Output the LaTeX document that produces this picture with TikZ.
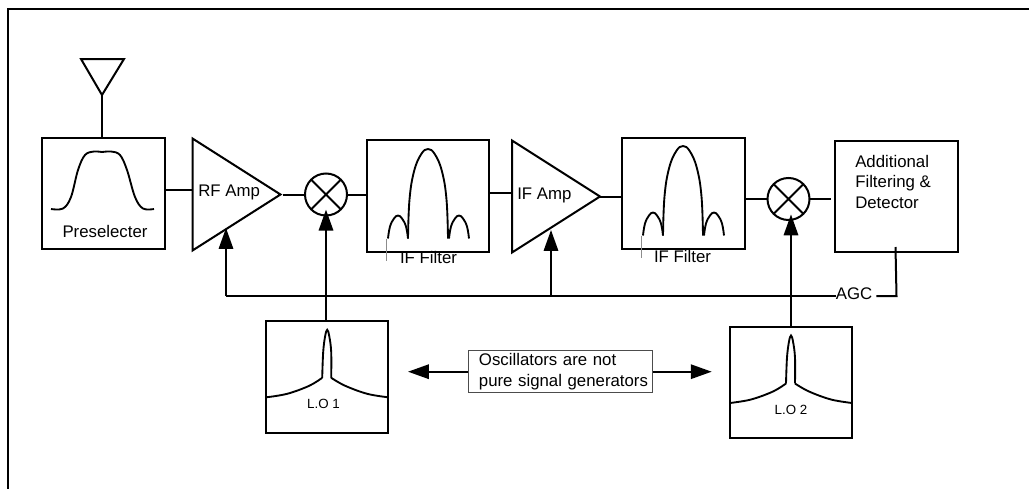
\documentclass[tikz,border=0pt]{standalone}
\usepackage{fontspec}
\setmainfont{Liberation Sans}
\usetikzlibrary{arrows.meta,shapes.geometric}
\tikzset{
	blockbox/.style={draw, line width=1.5pt, minimum width=91.9pt, minimum height=83.6pt, inner sep=0pt, outer sep=0pt},
	ampbox/.style={draw, line width=1.5pt, isosceles triangle, isosceles triangle stretches, anchor=west, minimum width=84pt, minimum height=66pt, inner sep=0pt, outer sep=0pt},
	mixer/.style={draw, circle, line width=1.5pt, minimum size=31.5pt, inner sep=0pt, outer sep=0pt,
		path picture={\draw[line width=1.5pt] (path picture bounding box.north west) -- (path picture bounding box.south east)
			(path picture bounding box.north east) -- (path picture bounding box.south west);}},
	wire/.style={line width=1.5pt},
	feed/.style={line width=1.5pt, -{Triangle[length=15.7pt,width=10.8pt]}},
	lbl/.style={inner sep=0pt, font=\fontsize{12.6}{15.4}\selectfont},
	smalllbl/.style={inner sep=0pt, font=\fontsize{10}{12}\selectfont},
	resp/.style={line width=1.4pt}
}
\begin{document}
\begin{tikzpicture}[x=.75pt, y=-.75pt]
		\useasboundingbox (0, 0) rectangle (1029, 489);
		\draw[line width=2pt] (1029, 9) -- (8, 9) -- (8, 489);
		% antenna and blocks
		\draw[wire, line join=miter] (81, 59) -- (124, 59) -- (102, 95) -- cycle;
		\coordinate (antenna) at (102, 95);
		\node[blockbox] (presel) at (103.7, 193.3) {};
		\node[ampbox] (rfamp) at (192.5, 194.5) {};
		\node[mixer] (mix1) at (326, 194.5) {};
		\node[blockbox] (filter1) at (428.2, 196) {};
		\node[ampbox] (ifamp) at (512, 196.5) {};
		\node[blockbox] (filter2) at (683.7, 193.6) {};
		\node[mixer] (mix2) at (788.5, 199) {};
		\node[blockbox] (detect) at (896.3, 196.5) {};
		\node[blockbox] (lo1) at (327.2, 376.8) {};
		\node[blockbox] (lo2) at (791, 382.5) {};
		\node[draw=black!70, line width=.7pt, minimum width=138pt, minimum height=31.5pt, inner sep=0pt, text width=138pt, align=left, lbl] (note) at (560.3, 371.7)
			{\hspace*{8pt}Oscillators are not\\\hspace*{8pt}pure signal generators};
		% labels
		\node[lbl] (preselname) at (105, 231) {Preselecter};
		\node[lbl, anchor=west] (rfname) at (198, 192) {RF Amp};
		\node[lbl] (filter1name) at (428.5, 257) {IF Filter};
		\node[lbl, anchor=west] (ifname) at (517, 195) {IF Amp};
		\node[lbl] (filter2name) at (682.5, 256) {IF Filter};
		\node[lbl, anchor=north west, align=left] (detectname) at (855, 155) {Additional\\Filtering \&\\Detector};
		\node[lbl] (agc) at (854, 294) {AGC};
		\node[smalllbl] (lo1name) at (323.5, 404) {L.O 1};
		\node[smalllbl] (lo2name) at (791, 410) {L.O 2};
		% signal path
		\draw[wire] (antenna) -- (presel.north -| antenna);
		\draw[wire] (presel.east |- 0, 190) -- (rfamp.west |- 0, 190);
		\draw[wire] (rfamp.apex |- mix1.west) ++(2, 0) -- (mix1.west);
		\draw[wire] (mix1.east) -- (filter1.west |- mix1.east);
		\draw[wire] (filter1.east |- 0, 193) -- (ifamp.west |- 0, 193);
		\draw[wire] (ifamp.apex) -- (filter2.west |- ifamp.apex);
		\draw[wire] (filter2.east |- mix2.west) -- (mix2.west);
		\draw[wire] (mix2.east) -- (831, 199);
		% AGC loop
		\coordinate (buscorner) at (226, 296);
		\coordinate (rfgain) at (226, 228);
		\coordinate (iftee) at (551, 296);
		\coordinate (ifgain) at (551, 230);
		\coordinate (agcturn) at (896.5, 296);
		\coordinate (detecttap) at (895.5, 247);
		\draw[wire] (agc.west |- buscorner) -- (buscorner);
		\draw[feed] (buscorner) -- (rfgain);
		\draw[feed] (iftee) -- (ifgain);
		\draw[wire, line join=miter] (agc.east |- agcturn) ++(4, 0) -- (agcturn) -- (detecttap);
		% local oscillators
		\draw[feed, shorten >=-4.4pt] (lo1.north -| mix1.south) -- (mix1.south);
		\draw[feed, shorten >=-4.2pt] (lo2.north) -- (lo2.north |- mix2.south);
		\draw[feed] (note.west) -- (408, 371.7);
		\draw[feed] (note.east) -- (711.7, 371.7);
		% responses
		\draw[resp] plot [smooth, tension=.6] coordinates {(51, 209)(63, 208.5)(71, 197)(78, 170)(85, 155)(94, 151.5)(102, 152)(111, 151.5)(120, 155)(127, 170)(135, 197)(143, 208.5)(154, 209)};
		\foreach \fx/\fy in {408/238.5, 663/235.5} {
			\begin{scope}[shift={(\fx, \fy)}]
				\draw[resp] plot [smooth, tension=.7] coordinates {(0, 0)(1.5, -39)(6, -67)(13, -84)(20, -89.5)(27, -84)(34, -67)(38.5, -39)(40, 0)};
				\draw[resp] plot [smooth, tension=.7] coordinates {(-20, 0)(-18, -12)(-14, -20)(-10, -23)(-6, -20)(-2, -12)(0, 0)};
				\draw[resp] plot [smooth, tension=.7] coordinates {(41, 0)(43, -12)(47, -20)(51, -23)(55, -20)(59, -12)(61, 0)};
				\draw[black!45, line width=.4pt] (-21.5, 0) -- (-21.5, 22);
			\end{scope}
		}
		\foreach \lx/\ly in {327.2/376.8, 791/382.5} {
			\begin{scope}[shift={(\lx, \ly)}]
				\draw[resp] plot [smooth, tension=.6] coordinates {(-61, 20.5)(-40, 17)(-18, 9)(-5, 1)};
				\draw[resp] plot [smooth, tension=.6] coordinates {(4, 1)(18, 9)(40, 17)(61, 20.5)};
				\draw[resp] plot [smooth, tension=.6] coordinates {(-5, 1)(-4, -25)(-2, -41)(0, -47)(2, -41)(4, -25)(4, 1)};
			\end{scope}
		}
\end{tikzpicture}
\end{document}
